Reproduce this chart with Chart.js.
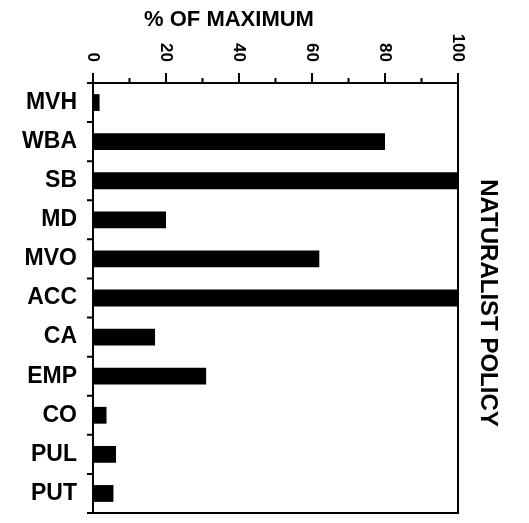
<!DOCTYPE html>
<html>
<head>
<meta charset="utf-8">
<script src="https://cdn.jsdelivr.net/npm/chart.js@4/dist/chart.umd.min.js"></script>
<style>
  html, body { margin: 0; padding: 0; background: #fff; }
  #wrap { width: 529px; height: 523px; }
</style>
</head>
<body>
<div id="wrap"><canvas id="c" width="529" height="523"></canvas></div>
<script>
const categories = ['MVH', 'WBA', 'SB', 'MD', 'MVO', 'ACC', 'CA', 'EMP', 'CO', 'PUL', 'PUT'];
const values = [1.8, 80, 100, 20, 62, 100, 17, 31, 3.7, 6.3, 5.6];
const majorTicks = [0, 20, 40, 60, 80, 100];
const minorTicks = [10, 30, 50, 70, 90];
const axisTitle = '% OF MAXIMUM';
const sideTitle = 'NATURALIST POLICY';

const FONT = "'Liberation Sans', Arial, sans-serif";

const decor = {
  id: 'decor',
  afterDraw(chart) {
    const ctx = chart.ctx;
    const a = chart.chartArea;
    const xs = chart.scales.x;
    const ys = chart.scales.y;
    ctx.save();
    ctx.strokeStyle = '#000';
    ctx.fillStyle = '#000';
    ctx.lineWidth = 2;
    // right and bottom frame lines
    ctx.beginPath();
    ctx.moveTo(a.right, a.top);
    ctx.lineTo(a.right, a.bottom);
    ctx.moveTo(a.left - 5, a.bottom);
    ctx.lineTo(a.right + 1, a.bottom);
    ctx.stroke();
    // top ticks
    ctx.beginPath();
    majorTicks.forEach(v => {
      const px = xs.getPixelForValue(v);
      ctx.moveTo(px, a.top);
      ctx.lineTo(px, a.top - 10);
    });
    minorTicks.forEach(v => {
      const px = xs.getPixelForValue(v);
      ctx.moveTo(px, a.top);
      ctx.lineTo(px, a.top - 5);
    });
    // left category boundary ticks
    const n = categories.length;
    for (let i = 0; i <= n; i++) {
      let py;
      if (i === 0) py = a.top;
      else if (i === n) py = a.bottom;
      else py = (ys.getPixelForValue(i - 1) + ys.getPixelForValue(i)) / 2;
      ctx.moveTo(a.left, py);
      ctx.lineTo(a.left - 6, py);
    }
    ctx.stroke();
    // rotated tick labels
    ctx.font = 'bold 17px ' + FONT;
    ctx.textAlign = 'right';
    ctx.textBaseline = 'middle';
    majorTicks.forEach(v => {
      const px = xs.getPixelForValue(v);
      ctx.save();
      ctx.translate(px, a.top - 21);
      ctx.rotate(Math.PI / 2);
      ctx.fillText(String(v), 0, 0);
      ctx.restore();
    });
    // right side title
    ctx.font = 'bold 24px ' + FONT;
    ctx.textAlign = 'center';
    ctx.save();
    ctx.translate(a.right + 30, (a.top + a.bottom) / 2 + 5);
    ctx.rotate(Math.PI / 2);
    ctx.fillText(sideTitle, 0, 0);
    ctx.restore();
    ctx.restore();
  }
};

new Chart(document.getElementById('c'), {
  type: 'bar',
  data: {
    labels: categories,
    datasets: [{
      data: values,
      backgroundColor: '#000',
      borderWidth: 0,
      barPercentage: 0.43,
      categoryPercentage: 1
    }]
  },
  options: {
    indexAxis: 'y',
    responsive: false,
    animation: false,
    layout: { padding: { left: 0, right: 71, top: 0, bottom: 10 } },
    plugins: {
      legend: { display: false },
      tooltip: { enabled: false },
      title: {
        display: true,
        text: axisTitle,
        color: '#000',
        font: { family: FONT, size: 22, weight: 'bold', lineHeight: 1.2 },
        padding: { top: 7, bottom: 0 }
      }
    },
    scales: {
      x: {
        position: 'top',
        min: 0,
        max: 100,
        ticks: { display: false },
        grid: { display: false, drawTicks: false },
        border: { display: true, color: '#000', width: 2 },
        afterFit(s) { s.height = 49.6; s.paddingLeft = 0; s.paddingRight = 0; }
      },
      y: {
        grid: { display: false, drawTicks: false },
        border: { display: true, color: '#000', width: 2 },
        ticks: {
          color: '#000',
          padding: 16,
          font: { family: FONT, size: 23, weight: 'bold' }
        },
        afterFit(s) { s.width = 93; s.paddingTop = 0; s.paddingBottom = 0; }
      }
    }
  },
  plugins: [decor]
});
</script>
</body>
</html>
